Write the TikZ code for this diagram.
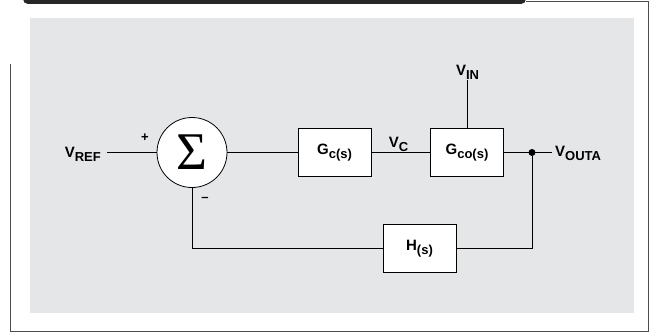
\documentclass[tikz,border=0pt]{standalone}
\usepackage{fontspec}
\setmainfont{Liberation Sans}
\newfontfamily\sigmafont{Liberation Serif}
\definecolor{panelgray}{RGB}{229,230,232}
\newcommand{\vsub}[2]{#1\raisebox{-4.5pt}{\fontsize{13}{13}\selectfont #2}}

\begin{document}
\begin{tikzpicture}[x=1pt,y=1pt,
  blk/.style={draw, fill=white, line width=0.8pt, minimum width=73pt, minimum height=48pt, inner sep=0pt, font=\bfseries\fontsize{15}{15}\selectfont},
  lbl/.style={inner sep=0pt, font=\bfseries\fontsize{15}{15}\selectfont},
  wire/.style={line width=0.9pt}]
\useasboundingbox (0,0) rectangle (651,333);
\fill[black!85, rounded corners=5pt] (23,340) rectangle (526,329);
\draw[black!70, line width=1pt] (526,331) -- (648,331) -- (648,1.5) -- (10.5,1.5) -- (10.5,269);
\fill[panelgray] (30,20) rectangle (634,315);

\node[circle, draw, fill=white, line width=0.8pt, minimum size=70pt, inner sep=0pt] (S) at (192,180.5) {\sigmafont\fontsize{53}{53}\selectfont Σ};
\node[blk] (Gc) at (334.5,180.5) {\vsub{G}{c(s)}};
\node[blk] (Gco) at (467,180.5) {\vsub{G}{co(s)}};
\node[blk] (H) at (419.5,84.5) {\vsub{H}{(s)}};
\node[circle, fill, inner sep=0pt, minimum size=7pt] (D) at (532,180.5) {};

\node[lbl, anchor=base east] (vref) at (101,176) {\vsub{V}{REF}};
\node[lbl, anchor=base] (vc) at (398.5,186) {\vsub{V}{C}};
\node[lbl, anchor=base] (vin) at (467.5,258) {\vsub{V}{IN}};
\node[lbl, anchor=base west] (vout) at (555,177) {\vsub{V}{OUTA}};
\node[lbl, font=\bfseries\fontsize{13}{13}\selectfont] (plus) at (145,195) {+};
\node[lbl, font=\bfseries\fontsize{13}{13}\selectfont] (minus) at (205,134) {–};

\coordinate (in) at (107,180.5);
\coordinate (out) at (552,180.5);

\draw[wire] (in) -- (S);
\draw[wire] (S) -- (Gc);
\draw[wire] (Gc) -- (Gco);
\draw[wire] (Gco.east) -- (out);
\draw[wire] (Gco.north) -- (Gco.north |- vin.south);
\draw[wire] (D) |- (H.east);
\draw[wire] (H.west) -| (S.south);
\end{tikzpicture}
\end{document}
